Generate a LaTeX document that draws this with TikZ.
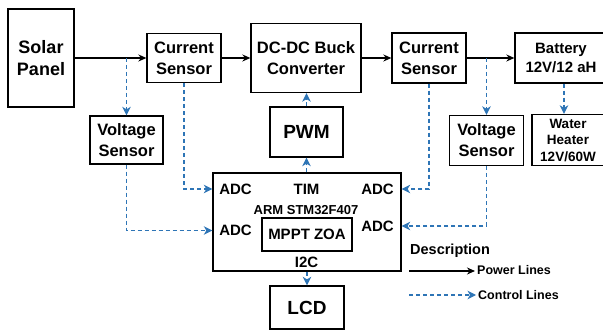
\documentclass[tikz,border=0pt]{standalone}
\usepackage{fontspec}
\setmainfont{Liberation Sans}
\usetikzlibrary{arrows.meta}
\definecolor{ctrlblue}{RGB}{46,117,182}

\begin{document}
\begin{tikzpicture}[x=1pt,y=-1pt,
        block/.style={draw, line width=1.3pt, align=center, inner sep=0pt,
            font=\bfseries\fontsize{16.5}{21}\selectfont},
        port/.style={inner sep=0pt, font=\bfseries\fontsize{15}{17}\selectfont},
        power/.style={line width=1.2pt, -{Stealth[length=8pt,width=7pt]}},
        ctrl/.style={ctrlblue, line width=1.3pt, dash pattern=on 4pt off 3pt,
            -{Stealth[length=8.5pt,width=8.5pt,inset=2.5pt]}}]
        \clip (0,0) rectangle (603,331);
        % power path
        \node[block, minimum width=66, minimum height=98,
            font=\bfseries\fontsize{18}{22}\selectfont] (solar) at (41,58) {Solar\\Panel};
        \node[block, minimum width=74, minimum height=49] (csin) at (184,58) {Current\\Sensor};
        \node[block, minimum width=110, minimum height=69] (buck) at (306,58) {DC-DC Buck\\Converter};
        \node[block, minimum width=74, minimum height=50] (csout) at (429,58) {Current\\Sensor};
        \node[block, minimum width=92, minimum height=50,
            font=\bfseries\fontsize{15}{19}\selectfont] (batt) at (561,58) {Battery\\12V/12 aH};
        \node[block, minimum width=72, minimum height=51,
            font=\bfseries\fontsize{13.5}{16.5}\selectfont] (heater) at (568,140) {Water\\Heater\\12V/60W};
        % sensing and control
        \node[block, minimum width=73, minimum height=48] (vsin) at (126.5,140) {Voltage\\Sensor};
        \node[block, minimum width=74, minimum height=50] (vsout) at (486.5,140.5) {Voltage\\Sensor};
        \node[block, minimum width=73, minimum height=50,
            font=\bfseries\fontsize{19}{22}\selectfont] (pwm) at (306.5,132) {PWM};
        \node[block, minimum width=188, minimum height=98] (mcu) at (307,222) {};
        \node[block, minimum width=90, minimum height=33,
            font=\bfseries\fontsize{15}{17}\selectfont] (mppt) at (307,234.5) {MPPT ZOA};
        \node[block, minimum width=74, minimum height=43,
            font=\bfseries\fontsize{19}{22}\selectfont] (lcd) at (307,307.5) {LCD};
        % controller pins
        \node[port] (adcA) at (235.5,189) {ADC};
        \node[port] (adcB) at (235.5,230.5) {ADC};
        \node[port] (tim) at (306.5,189) {TIM};
        \node[port] (adcC) at (377.5,189) {ADC};
        \node[port] (adcD) at (377.5,226) {ADC};
        \node[inner sep=0pt, font=\bfseries\fontsize{13}{15}\selectfont] (arm) at (306,210) {ARM STM32F407};
        \node[port] (iic) at (306.5,262) {I2C};

        \draw[power] (solar) -- (csin);
        \draw[power] (csin) -- (buck);
        \draw[power] (buck) -- (csout);
        \draw[power] (csout) -- (batt);

        \draw[ctrl] (vsin.north |- solar.east) -- (vsin.north);
        \draw[ctrl] (csin.south) |- (mcu.west |- adcA);
        \draw[ctrl] (vsin.south) |- (mcu.west |- adcB);
        \draw[ctrl] (csout.south) |- (mcu.east |- adcC);
        \draw[ctrl] (vsout.north |- csout.east) -- (vsout.north);
        \draw[ctrl] (vsout.south) |- (mcu.east |- adcD);
        \draw[ctrl] ([xshift=3pt]batt.south) -- ([xshift=3pt]batt.south |- heater.north);
        \draw[ctrl] (pwm.south |- mcu.north) -- (pwm.south);
        \draw[ctrl] (pwm.north) -- (pwm.north |- buck.south);
        \draw[ctrl] (mcu.south) -- (lcd.north);

        % legend
        \node[anchor=base west, inner sep=0pt,
            font=\bfseries\fontsize{14.5}{17}\selectfont] (descr) at (410,255) {Description};
        \coordinate (pwrA) at (409,271);
        \coordinate (pwrB) at (475,271);
        \coordinate (ctlA) at (409,295);
        \coordinate (ctlB) at (476,295);
        \draw[power] (pwrA) -- (pwrB);
        \draw[ctrl] (ctlA) -- (ctlB);
        \node[anchor=west, inner sep=0pt, font=\bfseries\fontsize{12.5}{15}\selectfont]
            (pwrtxt) at (477,270.5) {Power Lines};
        \node[anchor=west, inner sep=0pt, font=\bfseries\fontsize{12.5}{15}\selectfont]
            (ctltxt) at (478,295) {Control Lines};
\end{tikzpicture}
\end{document}
